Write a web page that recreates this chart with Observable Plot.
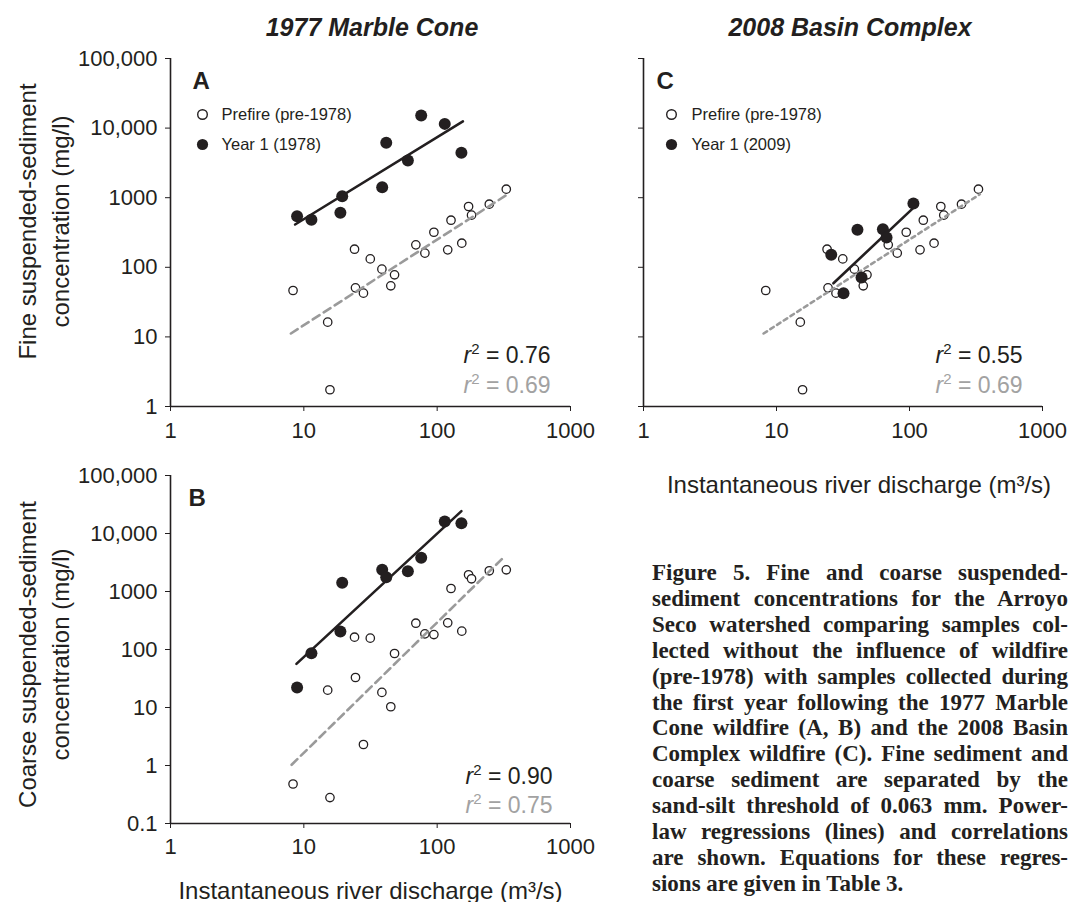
<!DOCTYPE html>
<html><head><meta charset="utf-8">
<script src="https://cdn.jsdelivr.net/npm/d3@7"></script>
<script src="https://cdn.jsdelivr.net/npm/@observablehq/plot@0.6"></script>
<style>
body{margin:0;background:#fff;}
#root{position:relative;width:1069px;height:902px;overflow:hidden;font-family:"Liberation Sans",Arial,sans-serif;color:#231f20;}
.panel{position:absolute;}
.title{position:absolute;top:13px;font:italic bold 25px "Liberation Sans",Arial,sans-serif;transform:translateX(-50%);white-space:nowrap;color:#231f20;}
.cap{position:absolute;left:652px;top:560px;width:416px;font:bold 23px/25.9px "Liberation Serif","Times New Roman",serif;color:#231f20;}
.cap div{text-align:justify;text-align-last:justify;}
.cap div.last{text-align-last:left;}
</style>
</head><body>
<div id="root">
  <div class="title" style="left:372px">1977 Marble Cone</div>
  <div class="title" style="left:850px">2008 Basin Complex</div>
  <div class="cap" id="cap"></div>
</div>
<script>
// ---- Data ----
// Prefire (pre-1978) samples: discharge (m3/s), fine and coarse concentration (mg/l)
const prefireQ      = [8.3, 15.1, 15.7, 24.0, 24.4, 28.0, 31.5, 38.5, 44.9, 47.9, 69.2, 80.9, 94.5, 120, 127, 153, 172, 181, 246, 330];
const prefireFine   = [46.4, 16.3, 1.74, 182, 50.7, 42.5, 132, 94, 54.2, 78, 210, 160, 319, 178, 475, 222, 748, 561, 807, 1325];
const prefireCoarse = [0.48, 19.9, 0.28, 163, 32.9, 2.3, 157, 18.2, 10.3, 85.3, 284, 186, 181, 288, 1127, 207, 1941, 1656, 2275, 2366];
// Year 1 (1978) after Marble Cone fire
const y1978Q      = [8.9, 11.4, 18.8, 19.4, 38.7, 41.5, 60.3, 75.9, 114, 152];
const y1978Fine   = [542, 481, 607, 1052, 1416, 6150, 3420, 15200, 11500, 4420];
const y1978Coarse = [22.1, 86.5, 204, 1413, 2366, 1766, 2239, 3811, 16100, 15060];
// Year 1 (2009) after Basin Complex fire
const y2009Q    = [25.8, 31.9, 40.6, 43.6, 63.1, 67.2, 107];
const y2009Fine = [151, 42.5, 346, 71.4, 353, 268, 826];
// Power-law regression line end points
const fitPreFineQ = [8.0, 338],  fitPreFineC = [11.2, 1120];
const fit1978FineQ = [8.6, 156], fit1978FineC = [412, 12450];
const fitPreCoarseQ = [8.1, 313], fitPreCoarseC = [1.03, 3811];
const fit1978CoarseQ = [8.8, 152], fit1978CoarseC = [56.6, 24300];
const fit2009FineQ = [26.8, 105], fit2009FineC = [59, 692];
// Correlations
const r2A = ["0.76", "0.69"], r2B = ["0.90", "0.75"], r2C = ["0.55", "0.69"];
// Ticks
const xTicks = [1, 10, 100, 1000];
const xTickLabels = ["1", "10", "100", "1000"];
const yTicksFine = [1, 10, 100, 1000, 10000, 100000];
const yTickLabelsFine = ["1", "10", "100", "1000", "10,000", "100,000"];
const yTicksCoarse = [0.1, 1, 10, 100, 1000, 10000, 100000];
const yTickLabelsCoarse = ["0.1", "1", "10", "100", "1000", "10,000", "100,000"];
const captionLines = [
  "Figure 5. Fine and coarse suspended-",
  "sediment concentrations for the Arroyo",
  "Seco watershed comparing samples col-",
  "lected without the influence of wildfire",
  "(pre-1978) with samples collected during",
  "the first year following the 1977 Marble",
  "Cone wildfire (A, B) and the 2008 Basin",
  "Complex wildfire (C). Fine sediment and",
  "coarse sediment are separated by the",
  "sand-silt threshold of 0.063 mm. Power-",
  "law regressions (lines) and correlations",
  "are shown. Equations for these regres-",
  "sions are given in Table 3."
];

const DARK = "#231f20", GRAY = "#9a9a9a", GRAYTXT = "#a2a2a2";
const rows = (qs, cs) => qs.map((q, i) => ({q, c: cs[i]}));

function makePanel(o) {
  const xFmt = d => xTickLabels[xTicks.indexOf(d)];
  const yFmt = o.showYLabels ? d => o.yLabels[o.yTicks.indexOf(d)] : () => "";
  const marks = [
    Plot.ruleX([1], {stroke: DARK, strokeWidth: 1.6}),
    Plot.ruleY([o.yDomain[0]], {stroke: DARK, strokeWidth: 1.6}),
    Plot.dot(o.pre, {x: "q", y: "c", r: 4.2, fill: "white", stroke: DARK, strokeWidth: 1.3}),
    Plot.line(o.preFit, {x: "q", y: "c", stroke: GRAY, strokeWidth: 2.6, strokeDasharray: o.preDash}),
    Plot.dot(o.post, {x: "q", y: "c", r: 6, fill: DARK}),
    Plot.line(o.postFit, {x: "q", y: "c", stroke: DARK, strokeWidth: 2.6}),
    Plot.text([o.letter], {text: d => d, frameAnchor: "top-left", textAnchor: "start", lineAnchor: "top",
      dx: o.letterDx, dy: 13, fontSize: 24, fontWeight: "bold", fill: DARK}),
    Plot.text(["r2 = " + o.r2[0]], {text: d => d, frameAnchor: "bottom-right", textAnchor: "end", lineAnchor: "bottom",
      dx: o.r2Dx, dy: o.r2Dy[0], fontSize: 23, fill: DARK}),
    Plot.text(["r2 = " + o.r2[1]], {text: d => d, frameAnchor: "bottom-right", textAnchor: "end", lineAnchor: "bottom",
      dx: o.r2Dx, dy: o.r2Dy[1], fontSize: 23, fill: GRAYTXT})
  ];
  if (o.legend) {
    marks.push(
      Plot.dot([0], {frameAnchor: "top-left", dx: o.legend.dotDx, dy: 56, r: 4.8, fill: "white", stroke: DARK, strokeWidth: 1.4}),
      Plot.dot([0], {frameAnchor: "top-left", dx: o.legend.dotDx, dy: 86, r: 5.6, fill: DARK}),
      Plot.text([o.legend.labels[0]], {text: d => d, frameAnchor: "top-left", textAnchor: "start", lineAnchor: "middle",
        dx: o.legend.textDx, dy: 56, fontSize: 16.5, fill: DARK}),
      Plot.text([o.legend.labels[1]], {text: d => d, frameAnchor: "top-left", textAnchor: "start", lineAnchor: "middle",
        dx: o.legend.textDx, dy: 86, fontSize: 16.5, fill: DARK})
    );
  }
  if (o.yTitle) {
    marks.push(Plot.text([o.yTitle], {text: d => d, frameAnchor: "left", rotate: -90, textAnchor: "middle", lineAnchor: "middle",
      lineHeight: 1.375, dx: o.yTitleDx, dy: o.yTitleDy, fontSize: 24, fill: DARK}));
  }
  if (o.xTitle) {
    marks.push(Plot.text([o.xTitle], {text: d => d, frameAnchor: "bottom", textAnchor: "middle", lineAnchor: "bottom",
      dx: o.xTitleDx, dy: o.xTitleDy, fontSize: 24, fill: DARK}));
  }
  const svg = Plot.plot({
    width: o.width, height: o.height,
    marginLeft: o.ml, marginRight: o.mr, marginTop: o.mt, marginBottom: o.mb,
    style: {fontFamily: '"Liberation Sans", Arial, sans-serif', fontSize: "22px", color: DARK, background: "transparent", overflow: "visible"},
    x: {type: "log", domain: [1, 1000], ticks: xTicks, tickFormat: xFmt, tickSize: 5, tickPadding: o.xPad, label: null},
    y: {type: "log", domain: o.yDomain, ticks: o.yTicks, tickFormat: yFmt, tickSize: 5, tickPadding: 8, label: null},
    marks
  });
  // italic r with superscript 2
  svg.querySelectorAll("text").forEach(t => {
    const s = t.textContent;
    if (/^r2 = /.test(s) && t.children.length === 0) {
      const rest = s.slice(2);
      t.textContent = "";
      const ns = "http://www.w3.org/2000/svg";
      const a = document.createElementNS(ns, "tspan"); a.setAttribute("font-style", "italic"); a.textContent = "r";
      const b = document.createElementNS(ns, "tspan"); b.setAttribute("dy", "-9"); b.setAttribute("font-size", "15"); b.textContent = "2";
      const c = document.createElementNS(ns, "tspan"); c.setAttribute("dy", "9"); c.textContent = rest;
      t.append(a, b, c);
    }
  });
  svg.classList.add("panel");
  svg.style.left = o.left + "px";
  svg.style.top = o.top + "px";
  return svg;
}

const root = document.getElementById("root");

// Panel A: fine, Marble Cone
root.appendChild(makePanel({
  left: 0, top: 0, width: 600, height: 450, ml: 170, mr: 30, mt: 58, mb: 44, xPad: 11,
  yDomain: [1, 100000], yTicks: yTicksFine, yLabels: yTickLabelsFine, showYLabels: true,
  pre: rows(prefireQ, prefireFine), post: rows(y1978Q, y1978Fine),
  preFit: rows(fitPreFineQ, fitPreFineC), postFit: rows(fit1978FineQ, fit1978FineC), preDash: "8,5",
  letter: "A", letterDx: 22, r2: r2A, r2Dx: -20, r2Dy: [-44, -14],
  legend: {dotDx: 32, textDx: 51, labels: ["Prefire (pre-1978)", "Year 1 (1978)"]},
  yTitle: "Fine suspended-sediment\nconcentration (mg/l)", yTitleDx: -128.5, yTitleDy: -11
}));

// Panel C: fine, Basin Complex
root.appendChild(makePanel({
  left: 600, top: 0, width: 469, height: 500, ml: 43, mr: 27, mt: 58, mb: 94, xPad: 11,
  yDomain: [1, 100000], yTicks: yTicksFine, yLabels: yTickLabelsFine, showYLabels: false,
  pre: rows(prefireQ, prefireFine), post: rows(y2009Q, y2009Fine),
  preFit: rows(fitPreFineQ, fitPreFineC), postFit: rows(fit2009FineQ, fit2009FineC), preDash: "4,4",
  letter: "C", letterDx: 13, r2: r2C, r2Dx: -20, r2Dy: [-44, -14],
  legend: {dotDx: 28, textDx: 48, labels: ["Prefire (pre-1978)", "Year 1 (2009)"]},
  xTitle: "Instantaneous river discharge (m³/s)", xTitleDx: 16, xTitleDy: 86
}));

// Panel B: coarse, Marble Cone
root.appendChild(makePanel({
  left: 0, top: 450, width: 600, height: 452, ml: 170, mr: 30, mt: 25, mb: 79, xPad: 10,
  yDomain: [0.1, 100000], yTicks: yTicksCoarse, yLabels: yTickLabelsCoarse, showYLabels: true,
  pre: rows(prefireQ, prefireCoarse), post: rows(y1978Q, y1978Coarse),
  preFit: rows(fitPreCoarseQ, fitPreCoarseC), postFit: rows(fit1978CoarseQ, fit1978CoarseC), preDash: "8,5",
  letter: "B", letterDx: 18, r2: r2B, r2Dx: -18, r2Dy: [-40, -11],
  yTitle: "Coarse suspended-sediment\nconcentration (mg/l)", yTitleDx: -129, yTitleDy: 5,
  xTitle: "Instantaneous river discharge (m³/s)", xTitleDx: 0, xTitleDy: 75
}));

// Caption
const cap = document.getElementById("cap");
captionLines.forEach((line, i) => {
  const d = document.createElement("div");
  d.textContent = line;
  if (i === captionLines.length - 1) d.className = "last";
  cap.appendChild(d);
});
</script>
</body></html>
